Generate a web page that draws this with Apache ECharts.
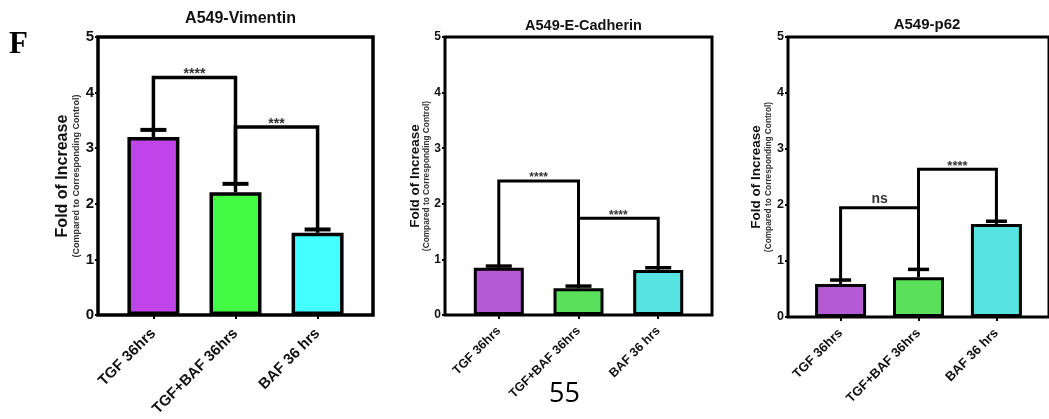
<!DOCTYPE html>
<html><head><meta charset="utf-8">
<script src="https://cdn.jsdelivr.net/npm/echarts@6/dist/echarts.min.js"></script>
<style>html,body{margin:0;padding:0;background:#fff}#c{width:1049px;height:419px}</style>
</head><body><div id="c"></div>
<script>
// ---- data ----
const categories = ['TGF 36hrs', 'TGF+BAF 36hrs', 'BAF 36 hrs'];
const categoryPositions = [0, 1, 2];
const yTicks = [0, 1, 2, 3, 4, 5];
const panelTitles = ['A549-Vimentin', 'A549-E-Cadherin', 'A549-p62'];
const yAxisTitle = 'Fold of Increase';
const yAxisSubtitle = '(Compared to Corresponding Control)';

const vimentinMean = [3.20, 2.21, 1.48];
const vimentinUpper = [3.33, 2.36, 1.54];
const cadherinMean = [0.85, 0.48, 0.81];
const cadherinUpper = [0.88, 0.52, 0.85];
const p62Mean = [0.59, 0.71, 1.66];
const p62Upper = [0.66, 0.85, 1.71];

// brackets: [fromIndex, toIndex, height, label]
const vimentinBrackets = [[0, 1, 4.27, '****'], [1, 2, 3.38, '***']];
const cadherinBrackets = [[0, 1, 2.41, '****'], [1, 2, 1.74, '****']];
const p62Brackets = [[0, 1, 1.95, 'ns'], [1, 2, 2.64, '****']];

const panelLetter = 'F';
const pageNumber = '55';

// ---- chart ----
const FF = '"Liberation Sans", Arial, sans-serif';
const chart = echarts.init(document.getElementById('c'), null, { renderer: 'canvas' });

const panels = [
  { title: panelTitles[0], mean: vimentinMean, upper: vimentinUpper, brackets: vimentinBrackets,
    colors: ['#c044ea', '#44fb44', '#44ffff'],
    grid: { left: 98, top: 37, width: 275, height: 280 },
    titleSize: 16, titleTop: 6, tickSize: 15, nameSize: 16, subSize: 9, nameLH: 17, subLH: 11, nameGap: 16,
    xSize: 15, xMargin: 16, lw: 3.5, frameW: 3.5, barW: 52, capW: 26, starSize: 14, starOff: 3, nsOff: 9 },
  { title: panelTitles[1], mean: cadherinMean, upper: cadherinUpper, brackets: cadherinBrackets,
    colors: ['#b55ad5', '#5ae05a', '#58e3e3'],
    grid: { left: 445, top: 37, width: 267, height: 278 },
    titleSize: 14.5, titleTop: 13, tickSize: 12, nameSize: 13.5, subSize: 8.3, nameLH: 14, subLH: 9, nameGap: 8,
    xSize: 12.5, xMargin: 14, lw: 3, frameW: 3, barW: 50, capW: 26, starSize: 12, starOff: 3, nsOff: 9 },
  { title: panelTitles[2], mean: p62Mean, upper: p62Upper, brackets: p62Brackets,
    colors: ['#b55ad5', '#5ae05a', '#58e3e3'],
    grid: { left: 788, top: 37, width: 268, height: 280 },
    titleSize: 15, titleTop: 12, tickSize: 12.5, nameSize: 13.5, subSize: 8.3, nameLH: 15, subLH: 10, nameGap: 10,
    xSize: 13, xMargin: 14, lw: 3, frameW: 3, barW: 51, capW: 21, starSize: 13, starOff: 3, nsOff: 9 }
];

const option = { animation: false, backgroundColor: '#fff',
  title: [], grid: [], xAxis: [], yAxis: [], series: [], graphic: [] };

panels.forEach((p, i) => {
  option.title.push({
    text: p.title, left: p.grid.left + p.grid.width / 2, textAlign: 'center', top: p.titleTop,
    textStyle: { fontFamily: FF, fontSize: p.titleSize, fontWeight: 'bold', color: '#111' }
  });
  option.grid.push(Object.assign({ show: true, borderColor: '#000', borderWidth: p.frameW,
    backgroundColor: 'transparent', containLabel: false }, p.grid));
  option.xAxis.push({
    type: 'value', gridIndex: i, min: -0.675, max: 2.675,
    splitLine: { show: false }, axisLine: { show: false, onZero: false },
    axisTick: { show: true, customValues: categoryPositions, length: 4, lineStyle: { color: '#000', width: 2 } },
    axisLabel: { customValues: categoryPositions, rotate: 45, margin: p.xMargin,
      formatter: v => categories[Math.round(v)] || '',
      fontFamily: FF, fontSize: p.xSize, fontWeight: 'bold', color: '#111' }
  });
  option.yAxis.push({
    type: 'value', gridIndex: i, min: 0, max: 5, interval: 1,
    splitLine: { show: false }, axisLine: { show: false, onZero: false },
    axisTick: { show: true, length: 3, lineStyle: { color: '#000', width: 2 } },
    axisLabel: { margin: 4, fontFamily: FF, fontSize: p.tickSize, fontWeight: 'bold', color: '#111',
      customValues: yTicks },
    name: '{m|' + yAxisTitle + '}\n{s|' + yAxisSubtitle + '}',
    nameLocation: 'middle', nameGap: p.nameGap,
    nameTextStyle: { align: 'center', rich: {
      m: { fontFamily: FF, fontSize: p.nameSize, fontWeight: 'bold', color: '#111', lineHeight: p.nameLH, align: 'center' },
      s: { fontFamily: FF, fontSize: p.subSize, fontWeight: 'bold', color: '#333', lineHeight: p.subLH, align: 'center' } } }
  });
  option.series.push({
    type: 'bar', xAxisIndex: i, yAxisIndex: i, barWidth: p.barW, z: 2,
    data: p.mean.map((v, k) => ({ value: [categoryPositions[k], v],
      itemStyle: { color: p.colors[k], borderColor: '#000', borderWidth: p.lw } }))
  });
  option.series.push({
    type: 'custom', xAxisIndex: i, yAxisIndex: i, z: 3,
    data: p.mean.map((v, k) => [categoryPositions[k], v, p.upper[k]]),
    renderItem: (params, api) => {
      const x = api.value(0), m = api.value(1), u = api.value(2);
      const a = api.coord([x, m]), b = api.coord([x, u]);
      return { type: 'group', children: [
        { type: 'line', shape: { x1: a[0], y1: a[1], x2: b[0], y2: b[1] }, style: { stroke: '#000', lineWidth: p.lw } },
        { type: 'line', shape: { x1: b[0] - p.capW / 2, y1: b[1], x2: b[0] + p.capW / 2, y2: b[1] }, style: { stroke: '#000', lineWidth: p.lw + 0.5 } }
      ] };
    }
  });
  const labels = p.brackets.map(b => b[3]);
  option.series.push({
    type: 'custom', xAxisIndex: i, yAxisIndex: i, z: 4,
    data: p.brackets.map(b => [categoryPositions[b[0]], categoryPositions[b[1]], b[2], p.upper[b[0]], p.upper[b[1]]]),
    renderItem: (params, api) => {
      const x1 = api.value(0), x2 = api.value(1), y = api.value(2), yl = api.value(3), yr = api.value(4);
      const a = api.coord([x1, yl]), b = api.coord([x1, y]), c = api.coord([x2, y]), d = api.coord([x2, yr]);
      const lab = labels[params.dataIndex];
      const ns = lab === 'ns';
      return { type: 'group', children: [
        { type: 'polyline', shape: { points: [a, b, c, d] }, style: { stroke: '#000', lineWidth: p.lw, fill: null, lineJoin: 'miter' } },
        { type: 'text', x: (b[0] + c[0]) / 2, y: b[1] - (ns ? p.nsOff : p.starOff),
          style: { text: lab, align: 'center', verticalAlign: 'middle', fill: '#333',
            font: 'bold ' + (ns ? 14 : p.starSize) + 'px ' + FF } }
      ] };
    }
  });
});

option.graphic.push({ type: 'text', left: 9, top: 29,
  style: { text: panelLetter, font: 'bold 31px "Liberation Serif", "Times New Roman", serif', fill: '#000' } });
option.graphic.push({ type: 'text', left: 549, top: 381,
  style: { text: pageNumber, font: '27px "Open Sans", "Liberation Sans", sans-serif', fill: '#000' } });

chart.setOption(option);
</script></body></html>
